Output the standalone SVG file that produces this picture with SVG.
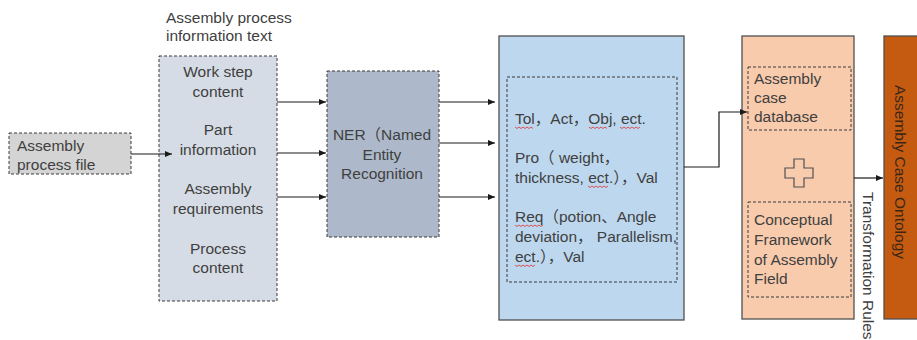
<svg xmlns="http://www.w3.org/2000/svg" width="917" height="340" viewBox="0 0 917 340">
  <style>
    .t { font-family: "Liberation Sans", "Noto Sans CJK SC", Arial, sans-serif; fill: #404040; font-size: 15.5px; }
    .c { text-anchor: middle; }
    .dash { stroke: #3a3a3a; stroke-width: 1; stroke-dasharray: 3 2; }
    .solid { stroke: #505050; stroke-width: 1.3; }
    .wire { fill: none; stroke: #1a1a1a; stroke-width: 1.2; marker-end: url(#arrow); }
    .squiggle { fill: none; stroke: #e03030; stroke-width: 0.8; }
  </style>
  <defs>
    <marker id="arrow" viewBox="0 0 7 6" refX="7" refY="3" markerWidth="7" markerHeight="6" markerUnits="userSpaceOnUse" orient="auto">
      <path d="M0,0 L7,3 L0,6 z" fill="#1a1a1a"/>
    </marker>
  </defs>

  <!-- source file -->
  <g id="process-file">
    <rect x="9" y="133" width="122" height="41" fill="#d4d4d4" class="dash"/>
    <text class="t" x="17" y="151">Assembly</text>
    <text class="t" x="17" y="170">process file</text>
  </g>

  <!-- process information text -->
  <g id="info-text">
    <text class="t" x="166" y="23" font-size="14.6">Assembly process</text>
    <text class="t" x="166" y="41" font-size="14.6">information text</text>
    <rect x="159" y="56" width="118" height="245" fill="#d6dce5" class="dash"/>
    <text class="t c" x="218" y="77">Work step</text>
    <text class="t c" x="218" y="97">content</text>
    <text class="t c" x="218" y="135">Part</text>
    <text class="t c" x="218" y="155">information</text>
    <text class="t c" x="218" y="194">Assembly</text>
    <text class="t c" x="218" y="214">requirements</text>
    <text class="t c" x="218" y="254">Process</text>
    <text class="t c" x="218" y="273">content</text>
  </g>

  <!-- named entity recognition -->
  <g id="ner">
    <rect x="327" y="71" width="112" height="166" fill="#adb9ca" class="dash"/>
    <text class="t c" x="382" y="140" font-size="15">NER（Named</text>
    <text class="t c" x="382" y="160" font-size="15">Entity</text>
    <text class="t c" x="382" y="179" font-size="15">Recognition</text>
  </g>

  <!-- extracted entities -->
  <g id="entities">
    <rect x="499" y="36" width="185" height="284" fill="#bdd7ee" class="solid"/>
    <rect x="507" y="77" width="170" height="205" fill="none" class="dash"/>
    <text class="t" x="515" y="124">Tol，Act，Obj, ect.</text>
    <text class="t" x="515" y="163">Pro（ weight，</text>
    <text class="t" x="515" y="183">thickness, ect.），Val</text>
    <text class="t" x="515" y="222">Req（potion、Angle</text>
    <text class="t" x="515" y="242">deviation， Parallelism,</text>
    <text class="t" x="515" y="262">ect.），Val</text>
    <path class="squiggle" d="M515,127 l2,1.5 l2,-1.5 l2,1.5 l2,-1.5 l2,1.5 l2,-1.5 l2,1.5 l2,-1.5 l2,1.5"/>
    <path class="squiggle" d="M589,127 l2,1.5 l2,-1.5 l2,1.5 l2,-1.5 l2,1.5 l2,-1.5 l2,1.5 l2,-1.5 l2,1.5"/>
    <path class="squiggle" d="M620,127 l2,1.5 l2,-1.5 l2,1.5 l2,-1.5 l2,1.5 l2,-1.5 l2,1.5 l2,-1.5 l2,1.5 l2,-1.5"/>
    <path class="squiggle" d="M588,186 l2,1.5 l2,-1.5 l2,1.5 l2,-1.5 l2,1.5 l2,-1.5 l2,1.5 l2,-1.5 l2,1.5 l2,-1.5"/>
    <path class="squiggle" d="M515,225 l2,1.5 l2,-1.5 l2,1.5 l2,-1.5 l2,1.5 l2,-1.5 l2,1.5 l2,-1.5 l2,1.5 l2,-1.5 l2,1.5 l2,-1.5 l2,1.5 l2,-1.5"/>
    <path class="squiggle" d="M515,265 l2,1.5 l2,-1.5 l2,1.5 l2,-1.5 l2,1.5 l2,-1.5 l2,1.5 l2,-1.5 l2,1.5 l2,-1.5"/>
  </g>

  <!-- case database + conceptual framework -->
  <g id="case-base">
    <rect x="742" y="36" width="112" height="283" fill="#f8cbad" class="solid"/>
    <rect x="748" y="67" width="103" height="63" fill="none" class="dash"/>
    <text class="t" x="754" y="84">Assembly</text>
    <text class="t" x="754" y="103">case</text>
    <text class="t" x="754" y="122">database</text>
    <path d="M794,159 h10 v9 h9 v10 h-9 v9 h-10 v-9 h-9 v-10 h9 z" fill="none" stroke="#505050" stroke-width="1.2"/>
    <rect x="748" y="202" width="103" height="95" fill="none" class="dash"/>
    <text class="t" x="754" y="225">Conceptual</text>
    <text class="t" x="754" y="245">Framework</text>
    <text class="t" x="754" y="265">of Assembly</text>
    <text class="t" x="754" y="284">Field</text>
  </g>

  <!-- ontology -->
  <g id="ontology">
    <rect x="884" y="36" width="40" height="283" fill="#c55a11" class="solid"/>
    <text class="t" transform="translate(895,85) rotate(90)" font-size="18.3" style="fill:#3b2616">Assembly Case Ontology</text>
  </g>

  <!-- connectors -->
  <g id="connectors">
    <line class="wire" x1="131" y1="154" x2="172" y2="154"/>
    <line class="wire" x1="277" y1="102" x2="326" y2="102"/>
    <line class="wire" x1="277" y1="153" x2="326" y2="153"/>
    <line class="wire" x1="277" y1="197" x2="326" y2="197"/>
    <line class="wire" x1="439" y1="102" x2="495" y2="102"/>
    <line class="wire" x1="439" y1="143" x2="495" y2="143"/>
    <line class="wire" x1="439" y1="197" x2="495" y2="197"/>
    <polyline class="wire" points="684,167 719,167 719,112 747,112"/>
    <line class="wire" x1="854" y1="178" x2="883" y2="178"/>
    <text class="t" transform="translate(863,192) rotate(90)" font-size="15">Transformation Rules</text>
  </g>
</svg>
